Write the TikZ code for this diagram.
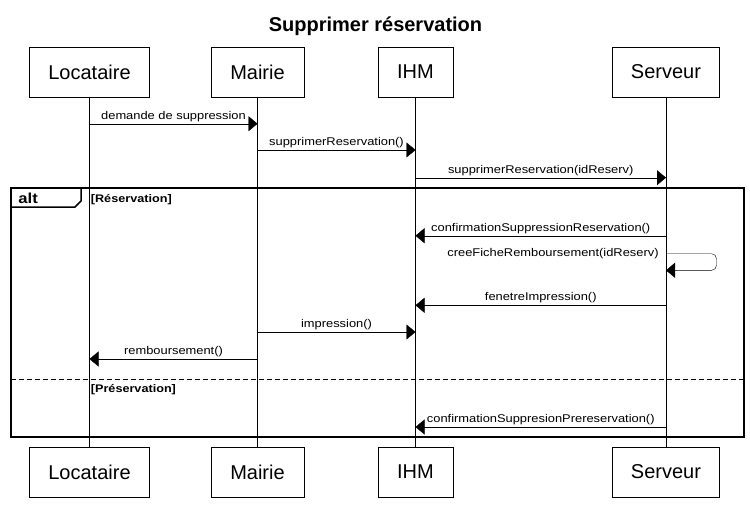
\documentclass[tikz,border=0pt]{standalone}
\usepackage{fontspec}
\setmainfont{Liberation Sans}
\newfontfamily\umlfont[FakeStretch=1.15]{Liberation Sans}
\usetikzlibrary{calc,
arrows.meta,
positioning}

\begin{document}
\begin{tikzpicture} [x=1pt, y=-1pt,
    >={Triangle[length=9pt, width=15pt]},
    thick,
    every node/.style={font={\fontsize{20}{24}\selectfont}},
    actor node/.style={rectangle, draw, fill = white,
        minimum height = 50pt, inner sep = 0pt, align=center},
    life line/.style={-, thin},
    msg/.style={->, thin},
    msg label/.style={above, inner sep = 0pt, yshift = 2pt, text depth = 2.5pt,
        font={\umlfont\fontsize{11.2}{13}\selectfont}},
    guard/.style={anchor = base west, inner sep = 0pt,
        font={\umlfont\bfseries\fontsize{11}{13}\selectfont}},
    frame/.style={draw, line width = 2pt}
  ]

  \useasboundingbox (0, 0) rectangle (750, 506);

  \node[anchor = base, font = {\bfseries\fontsize{20}{24}\selectfont}] (title) at (375.5, 31.5) {Supprimer réservation};

  % participants, top row
  \node [actor node, minimum width = 120pt] (locTop)  at (89.5, 72)  {Locataire};
  \node [actor node, minimum width = 93pt]  (mairTop) at (257.5, 72) {Mairie};
  \node [actor node, minimum width = 75pt]  (ihmTop)  at (415.5, 72) {IHM};
  \node [actor node, minimum width = 107pt] (servTop) at (666, 72)   {Serveur};

  % participants, bottom row
  \node [actor node, minimum width = 120pt] (locBot)  at (89.5, 472)  {Locataire};
  \node [actor node, minimum width = 93pt]  (mairBot) at (257.5, 472) {Mairie};
  \node [actor node, minimum width = 75pt]  (ihmBot)  at (415.5, 472) {IHM};
  \node [actor node, minimum width = 107pt] (servBot) at (666, 472)   {Serveur};

  \draw [life line] (locTop)  -- (locBot);
  \draw [life line] (mairTop) -- (mairBot);
  \draw [life line] (ihmTop)  -- (ihmBot);
  \draw [life line] (servTop) -- (servBot);

  % alt frame
  \coordinate (altNW) at (10.5, 187.5);
  \coordinate (altSE) at (743.5, 436.5);
  \draw [frame] (altNW) rectangle (altSE);
  \draw [frame, line width = 1.5pt] (altNW |- 0, 207) -- (75, 207) -- (81, 201) -- (81, 187.5);
  \node [anchor = base west, inner sep = 0pt, font = {\umlfont\bfseries\fontsize{14.5}{16}\selectfont}] (altTag) at (18, 203) {alt};
  \node [guard] (guardA) at (90.5, 202) {[Réservation]};
  \draw [line width = 1.6pt, dash pattern = on 5pt off 3pt] (altNW |- 0, 379.5) -- (altSE |- 0, 379.5);
  \node [guard] (guardB) at (90.5, 392.5) {[Préservation]};

  % messages
  \coordinate (m1) at (0, 123.7);
  \coordinate (m2) at (0, 150);
  \coordinate (m3) at (0, 177.7);
  \coordinate (m4) at (0, 235.7);
  \coordinate (m5) at (0, 253.7);
  \coordinate (m6) at (0, 270.3);
  \coordinate (m7) at (0, 305.3);
  \coordinate (m8) at (0, 332);
  \coordinate (m9) at (0, 359);
  \coordinate (m10) at (0, 427);

  \draw [msg] (locTop |- m1) -- node [msg label] {demande de suppression} (mairTop |- m1);
  \draw [msg] (mairTop |- m2) -- node [msg label] {supprimerReservation()} (ihmTop |- m2);
  \draw [msg] (ihmTop |- m3) -- node [msg label] {supprimerReservation(idReserv)} (servTop |- m3);
  \draw [msg] (servTop |- m4) -- node [msg label] {confirmationSuppressionReservation()} (ihmTop |- m4);
  \draw [msg, rounded corners = 5pt] (servTop |- m5) -- (716.5, 253.7) -- (716.5, 270.3) -- (servTop |- m6);
  \node [msg label, anchor = base east, yshift = 0pt] (selfLbl) at ($(servTop |- m5) + (-7, 5)$) {creeFicheRemboursement(idReserv)};
  \draw [msg] (servTop |- m7) -- node [msg label] {fenetreImpression()} (ihmTop |- m7);
  \draw [msg] (mairTop |- m8) -- node [msg label] {impression()} (ihmTop |- m8);
  \draw [msg] (mairTop |- m9) -- node [msg label] {remboursement()} (locTop |- m9);
  \draw [msg] (servTop |- m10) -- node [msg label] {confirmationSuppresionPrereservation()} (ihmTop |- m10);

\end{tikzpicture}
\end{document}
